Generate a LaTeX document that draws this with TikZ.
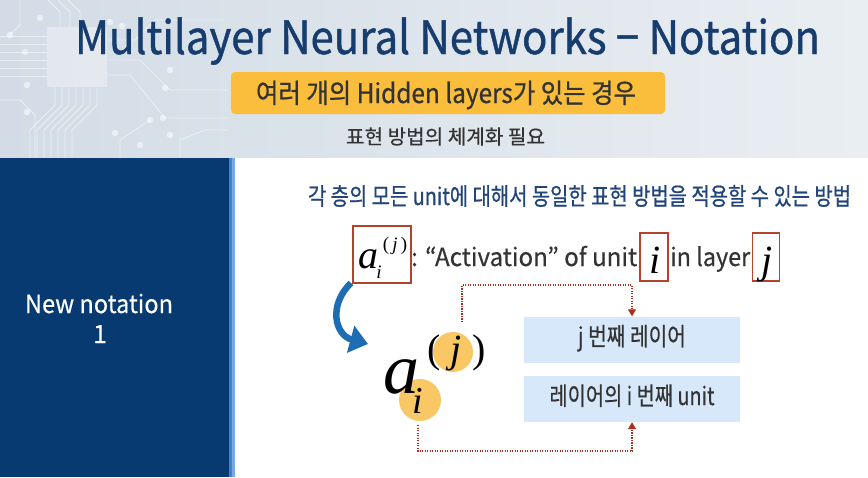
\documentclass[tikz,border=0pt]{standalone}
\usepackage{fontspec}
\setmainfont{Noto Sans CJK KR}
\newfontfamily\serifit{Liberation Serif}[ItalicFont=* Italic]
\usetikzlibrary{arrows.meta}
\definecolor{hdrL}{HTML}{D3DCE6}
\definecolor{hdrR}{HTML}{E9EEF2}
\definecolor{navy}{HTML}{063A70}
\definecolor{stripA}{HTML}{3F80CF}
\definecolor{stripB}{HTML}{74AAE8}
\definecolor{titlecol}{HTML}{173D6E}
\definecolor{subcol}{HTML}{22457A}
\definecolor{darktext}{HTML}{333333}
\definecolor{yel}{HTML}{FBBE3C}
\definecolor{yelc}{HTML}{F9C865}
\definecolor{redbox}{HTML}{B3432D}
\definecolor{dotred}{HTML}{A8321F}
\definecolor{bluearr}{HTML}{1D6DB3}
\definecolor{boxblue}{HTML}{D6E8FA}
\newsavebox\fitbox
\newcommand\xfit[2]{\sbox\fitbox{#2}\pgfmathsetmacro\fitscale{#1/\the\wd\fitbox}\scalebox{\fitscale}[1]{\usebox\fitbox}}
\newcommand\fs[1]{\fontsize{#1}{#1}\selectfont}
\newcommand\heavy[1]{\addfontfeature{FakeBold=#1}}
\tikzset{
  circ/.style={white, opacity=0.5, line width=0.8},
  cdot/.style={white, opacity=0.55},
  txt/.style={inner sep=0, anchor=base},
  mathit/.style={inner sep=0, anchor=base, text=black, font=\serifit\itshape},
  redframe/.style={draw=redbox, line width=1.6},
  dotline/.style={draw=dotred, line width=1.3, dash pattern=on 1.3pt off 1.2pt, -{Triangle[length=7,width=8]}},
  infobox/.style={fill=boxblue, minimum width=216, minimum height=46, inner sep=0, text height=17, text depth=5, text=darktext, font=\fs{25}\heavy{0.5}}
}
\begin{document}
\begin{tikzpicture}[x=1pt,y=-1pt]
\useasboundingbox (0,0) rectangle (868,477);
% header background
\fill[left color=hdrL, right color=hdrR] (0,0) rectangle (868,158);
% circuit decoration
\fill[white, opacity=0.35] (47,27) rectangle (107,87);
\foreach \yy in {36,44,52,60,68,76} {\draw[circ] (0,\yy) -- (47,\yy);}
\foreach \xx in {55,62,69,76,83,90,97} {\draw[circ] (\xx,87) -- (\xx,105) -- (\xx-25,130) -- (\xx-25,158);}
\foreach \xx in {60,70,80} {\draw[circ] (\xx,27) -- (\xx,12) -- (\xx-12,0);}
\draw[circ] (107,40) -- (135,40) -- (155,20) -- (225,20);
\draw[circ] (107,60) -- (140,60) -- (170,90) -- (228,90);
\draw[circ] (107,75) -- (130,75) -- (165,118) -- (228,118);
\draw[circ] (20,0) -- (20,25) -- (10,35);
\draw[circ] (0,100) -- (20,100) -- (35,115) -- (35,158);
\draw[circ] (120,158) -- (120,140) -- (150,120);
\draw[circ] (180,158) -- (180,140) -- (205,130) -- (228,130);
\foreach \p in {(40,18),(25,52),(27,85),(27,112),(110,22),(122,26),(170,70),(165,88),(163,118),(170,135),(140,145),(115,133),(150,120),(10,35)} {\fill[cdot] \p circle (3.2);}
% lower area
\fill[navy] (0,158) rectangle (229,477);
\fill[stripA] (229,158) rectangle (232,477);
\fill[stripB] (232,158) rectangle (235,477);
\fill[white] (235,158) rectangle (868,477);
% title
\node[txt, text=titlecol, font=\fs{46}\heavy{1.0}] (title) at (447.5,54) {\xfit{745}{Multilayer Neural Networks − Notation}};
\node[fill=yel, rounded corners=4, minimum width=434, minimum height=42, inner sep=0] (ybox) at (448,93) {};
\node[txt, text=darktext, font=\fs{27}\heavy{0.7}] (ytext) at (446,103) {\xfit{380}{여러 개의 Hidden layers가 있는 경우}};
\node[txt, text=darktext, font=\fs{20}\heavy{0.4}] (need) at (445.5,144) {\xfit{199}{표현 방법의 체계화 필요}};
% left panel
\node[txt, text=white, font=\fs{25}\heavy{0.4}] (newnot) at (99,313) {\xfit{148}{New notation}};
\node[txt, text=white, font=\fs{25}\heavy{0.4}] (one) at (100,343) {1};
% korean line
\node[txt, text=subcol, font=\fs{24}\heavy{0.8}] (kline) at (579.5,205) {\xfit{543}{각 층의 모든 unit에 대해서 동일한 표현 방법을 적용할 수 있는 방법}};
% formula line
\node[redframe, minimum width=58, minimum height=57, inner sep=0] (sbox) at (382,254.5) {};
\node[mathit, font=\serifit\itshape\fs{40}] (sa) at (368,268) {a};
\node[mathit, font=\serifit\itshape\fs{19}] (si) at (379,278) {i};
\node[mathit, font=\serifit\fs{19}] (sj) at (395,250) {(\,\textit{j}\,)};
\node[txt, anchor=base west, text=darktext, font=\fs{25}\heavy{0.4}] (act) at (411,266) {\xfit{226}{: “Activation” of unit}};
\node[redframe, minimum width=28, minimum height=48, inner sep=0] (ibox) at (654,257) {};
\node[mathit, font=\serifit\itshape\fs{40}] (ii) at (655,273) {i};
\node[txt, anchor=base west, text=darktext, font=\fs{25}\heavy{0.4}] (inl) at (670,266) {\xfit{80}{in layer}};
\node[redframe, minimum width=27, minimum height=48, inner sep=0] (jbox) at (766,257) {};
\node[mathit, font=\serifit\itshape\fs{40}] (jj) at (767,273) {j};
% blue curved arrow
\draw[bluearr, line width=6.5, -{Triangle[length=18,width=27]}] (351,283) .. controls (328,305) and (335,335) .. (368,344);
% big formula
\fill[yelc] (453,352) circle (20);
\fill[yelc] (420,400) circle (21);
\node[mathit, anchor=base west, font=\serifit\itshape\fs{72}] (ba) at (383,393) {a};
\node[mathit, font=\serifit\fs{40}] (lp) at (434,362) {(};
\node[mathit, font=\serifit\itshape\fs{40}] (bj) at (456,362) {j};
\node[mathit, font=\serifit\fs{40}] (rp) at (479,362) {)};
\node[mathit, font=\serifit\itshape\fs{38}] (bi) at (418,413) {i};
\coordinate (jtop) at (462,322);
\coordinate (ibot) at (418,425);
% info boxes
\node[infobox] (b1) at (632,339.5) {\xfit{108}{j 번째 레이어}};
\node[infobox] (b2) at (632,399) {\xfit{165}{레이어의 i 번째 unit}};
% dotted connectors
\draw[dotline] (jtop) -- (462,285) -| (b1.north);
\draw[dotline] (ibot) -- (418,451) -| (b2.south);
\end{tikzpicture}
\end{document}
